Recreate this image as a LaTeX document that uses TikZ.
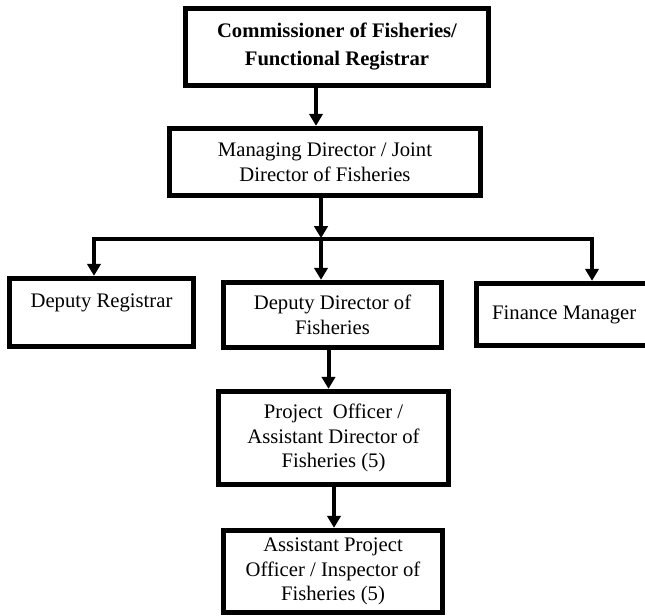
\documentclass[tikz,border=0pt]{standalone}
\usepackage{fontspec}
\setmainfont{Liberation Serif}
\usetikzlibrary{arrows.meta,calc}
\tikzset{
	post/.style={draw, line width=4pt, fill=white, align=center, inner sep=0pt,
			font=\fontsize{15.5}{18.5}\selectfont},
	link/.style={line width=3pt, -{Triangle[length=9pt,width=10pt]}},
	bar/.style={line width=3pt, line cap=rect}
}

\begin{document}
\begin{tikzpicture}[x=0.75pt,y=-0.75pt]
	\useasboundingbox (0,0) rectangle (645,616);
	\node[post, minimum width=227pt, minimum height=57.75pt, font=\fontsize{15.5}{21}\selectfont\bfseries] (comm) at (337,47) {Commissioner of Fisheries/\\Functional Registrar};
	\node[post, minimum width=233.25pt, minimum height=50.25pt] (mgr) at (325,162) {Managing Director / Joint\\Director of Fisheries};
	\node[post, minimum width=138pt, minimum height=51pt] (dr) at (101.5,312.5) {Deputy Registrar\\\mbox{}};
	\node[post, minimum width=163.5pt, minimum height=48.75pt] (dd) at (332.5,315) {Deputy Director of\\Fisheries};
	\node[post, minimum width=131.6pt, minimum height=46.5pt] (fm) at (564.25,314.5) {Finance Manager};
	\node[post, minimum width=172.5pt, minimum height=69.75pt] (po) at (333.5,438) {Project\ \ Officer /\\Assistant Director of\\Fisheries (5)};
	\node[post, minimum width=164.25pt, minimum height=61.5pt] (apo) at (333,571.5) {Assistant Project\\Officer / Inspector of\\Fisheries (5)};

	\coordinate (c1) at ($(comm.south)+(-21,0)$);
	\coordinate (c2) at ($(mgr.south)+(-4,0)$);
	\coordinate (split) at ($(mgr.south)+(-4,40)$);
	\coordinate (lft) at (94,239);
	\coordinate (rgt) at (592,239);
	\coordinate (c3) at ($(dd.south)+(-4,0)$);
	\coordinate (c4) at ($(po.south)+(0.5,0)$);

	\draw[link] (c1) -- (c1 |- mgr.north);
	\draw[link] (c2) -- (split);
	\draw[bar] (lft) -- (rgt);
	\draw[link] (lft) -- (lft |- dr.north);
	\draw[link] (split) -- (split |- dd.north);
	\draw[link] (rgt) -- (rgt |- fm.north);
	\draw[link] (c3) -- (c3 |- po.north);
	\draw[link] (c4) -- (c4 |- apo.north);
\end{tikzpicture}
\end{document}
